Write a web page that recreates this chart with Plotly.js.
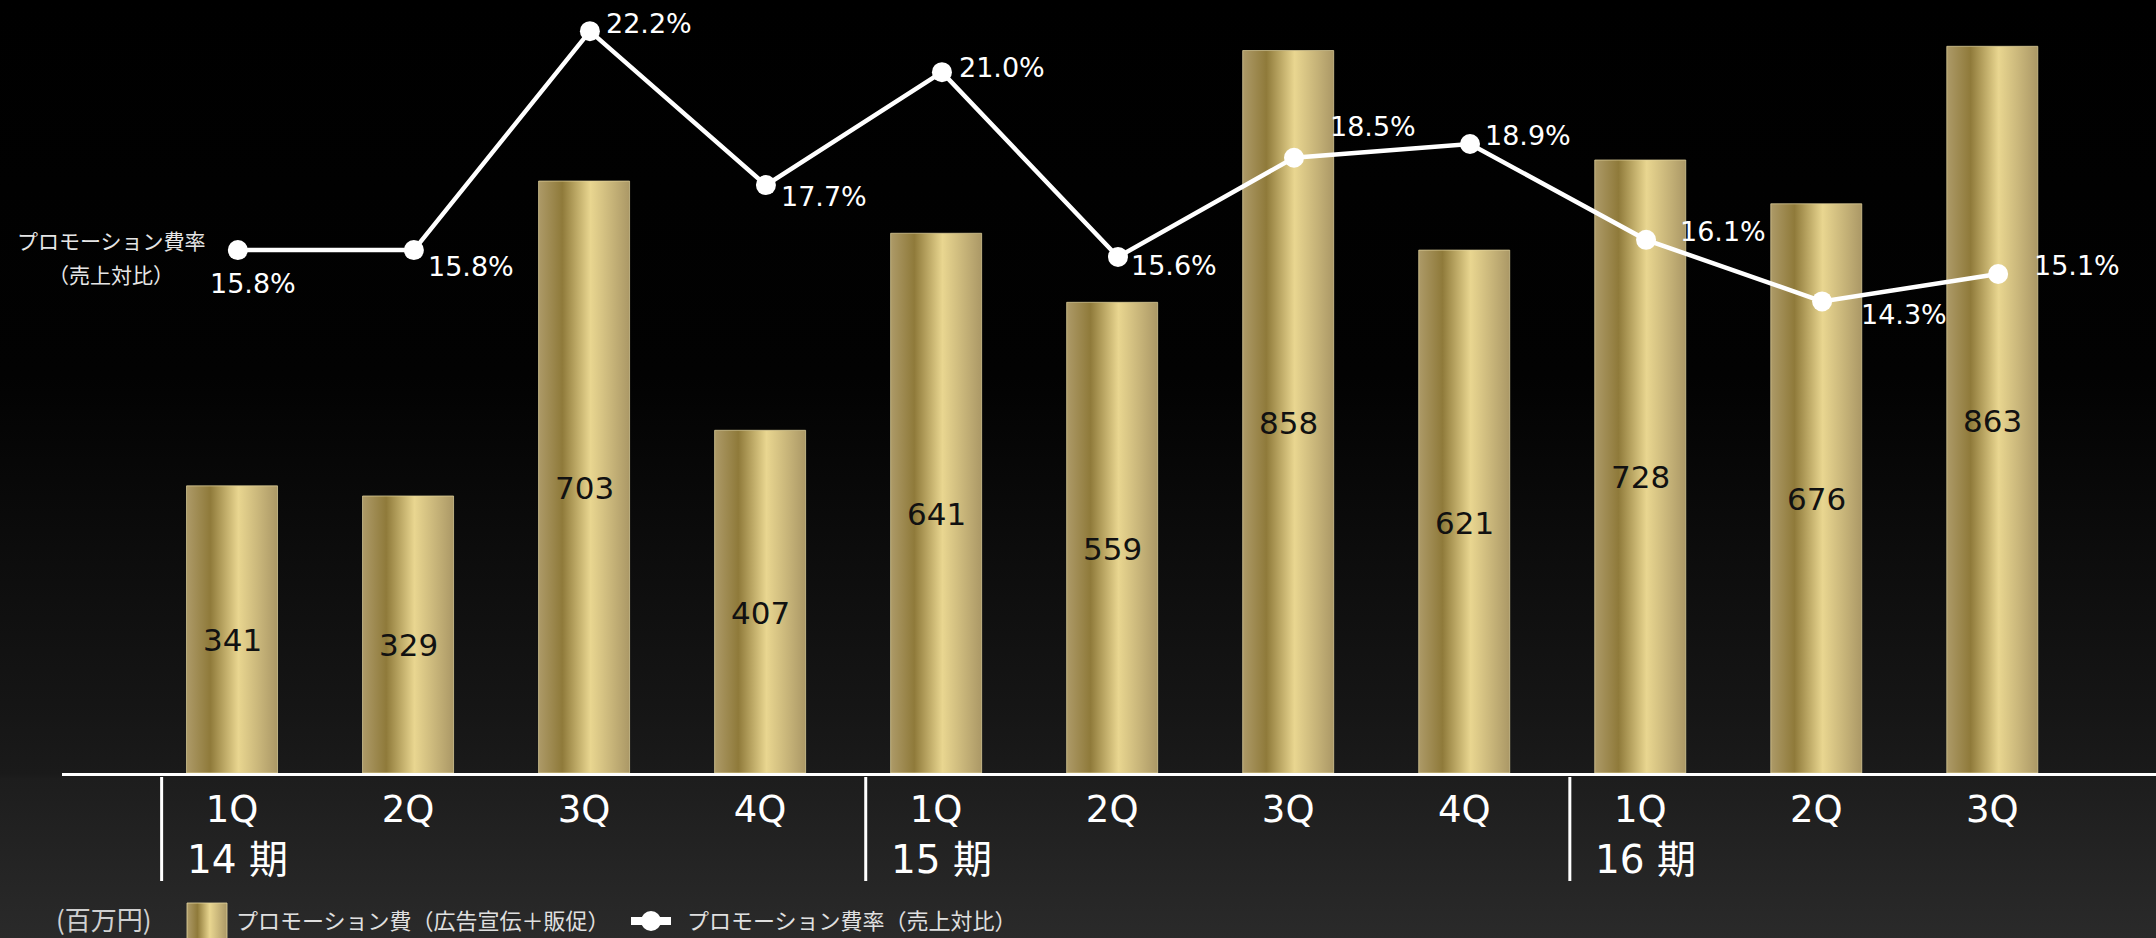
<!DOCTYPE html>
<html><head><meta charset="utf-8">
<script src="https://cdn.plot.ly/plotly-3.0.1.min.js"></script>
<style>
html,body{margin:0;padding:0;width:2156px;height:938px;overflow:hidden;
background:linear-gradient(to bottom,#000 0%,#020202 40%,#151515 75%,#1a1a1a 82.5%,#1d1d1d 83%,#2a2a2a 100%);}
#chart{width:2156px;height:938px;}
</style></head><body><div id="chart"></div>
<script>
// ---- data ----
const quarters = ['1Q','2Q','3Q','4Q','1Q','2Q','3Q','4Q','1Q','2Q','3Q'];
const periods = ['14 期','15 期','16 期'];
const periodStart = [0, 4, 8];
const promoCost = [341, 329, 703, 407, 641, 559, 858, 621, 728, 676, 863];
const promoRatio = [15.8, 15.8, 22.2, 17.7, 21.0, 15.6, 18.5, 18.9, 16.1, 14.3, 15.1];
const seriesNames = ['プロモーション費（広告宣伝＋販促）', 'プロモーション費率（売上対比）'];
const ratioSideLabel = ['プロモーション費率', '（売上対比）'];
const unitLabel = '(百万円)';

// ---- styles / layout constants ----
const W = 2156, H = 938, L = 62, B = 165;
const PW = W - L, PH = H - B;
const px2x = px => (px - L) / PW;
const px2y = py => (PH - py) / PH;
const JP_FONT = '"Noto Sans CJK JP", "Noto Sans", sans-serif';
const NUM_FONT = '"DejaVu Sans", "Noto Sans CJK JP", sans-serif';
const XRANGE = [-0.966, 10.93];
const LINE_SHIFT = 0.033; // line markers sit slightly right of bar centres
// percent label offsets in px (dx from point to label left edge, dy down)
const ratioLabelDx = [-30, 12, 14, 13, 15, 11, 34, 13, 32, 37, 34];
const ratioLabelDy = [33, 16, -8, 11, -5, 9, -31, -9, -8, 13, -9];

const idx = quarters.map((_, i) => i);

const barTrace = {
  type: 'bar', x: idx, y: promoCost, width: 0.517,
  marker: {color: '#c8b477', line: {color: 'rgba(230,215,160,0.7)', width: 1}},
  hoverinfo: 'skip', showlegend: false, name: seriesNames[0]
};
const lineTrace = {
  type: 'scatter', mode: 'lines+markers', x: idx, y: promoRatio, xaxis: 'x2', yaxis: 'y2',
  line: {color: '#ffffff', width: 4.5},
  marker: {color: '#ffffff', size: 20},
  cliponaxis: false, hoverinfo: 'skip', showlegend: false, name: seriesNames[1]
};

const annotations = [];
promoCost.forEach((v, i) => annotations.push({
  x: i, y: v / 2, xref: 'x', yref: 'y', text: String(v), showarrow: false,
  yshift: -11, font: {family: NUM_FONT, size: 31, color: '#111'}
}));
promoRatio.forEach((v, i) => annotations.push({
  x: i, y: v, xref: 'x2', yref: 'y2', text: v.toFixed(1) + '%', showarrow: false,
  xanchor: 'left', yanchor: 'middle', xshift: ratioLabelDx[i], yshift: -ratioLabelDy[i],
  font: {family: NUM_FONT, size: 27, color: '#fff'}
}));
periods.forEach((p, k) => annotations.push({
  x: periodStart[k] - 0.27, y: px2y(859), xref: 'x', yref: 'paper', text: p,
  showarrow: false, xanchor: 'left', yanchor: 'middle',
  font: {family: NUM_FONT, size: 39, color: '#fff'}
}));
ratioSideLabel.forEach((t, k) => annotations.push({
  x: px2x(111), y: px2y(k === 0 ? 240 : 274), xref: 'paper', yref: 'paper', text: t,
  showarrow: false, xanchor: 'center', yanchor: 'middle',
  font: {family: JP_FONT, size: 21, color: '#e6e6e6'}
}));
annotations.push({
  x: px2x(54), y: px2y(918), xref: 'paper', yref: 'paper', text: unitLabel,
  showarrow: false, xanchor: 'left', yanchor: 'middle',
  font: {family: JP_FONT, size: 26, color: '#d0d0d0'}
});
annotations.push({
  x: px2x(234), y: px2y(919), xref: 'paper', yref: 'paper', text: seriesNames[0],
  showarrow: false, xanchor: 'left', yanchor: 'middle',
  font: {family: JP_FONT, size: 22, color: '#e0e0e0'}
});
annotations.push({
  x: px2x(685), y: px2y(919), xref: 'paper', yref: 'paper', text: seriesNames[1],
  showarrow: false, xanchor: 'left', yanchor: 'middle',
  font: {family: JP_FONT, size: 22, color: '#e0e0e0'}
});

const shapes = [];
periodStart.forEach(s => shapes.push({
  type: 'line', xref: 'x', yref: 'paper', x0: s - 0.4, x1: s - 0.4,
  y0: px2y(777), y1: px2y(881), line: {color: '#fff', width: 3}
}));
const swatchIndex = shapes.length;
shapes.push({
  type: 'rect', xref: 'paper', yref: 'paper', x0: px2x(187), x1: px2x(227),
  y0: px2y(903), y1: px2y(945), fillcolor: '#c8b477',
  line: {color: 'rgba(230,215,160,0.8)', width: 1}
});
shapes.push({
  type: 'line', xref: 'paper', yref: 'paper', x0: px2x(631), x1: px2x(671),
  y0: px2y(921), y1: px2y(921), line: {color: '#fff', width: 8}
});
shapes.push({
  type: 'circle', xref: 'paper', yref: 'paper', x0: px2x(641), x1: px2x(661),
  y0: px2y(911), y1: px2y(931), fillcolor: '#fff', line: {color: '#fff', width: 0}
});

const layout = {
  width: W, height: H,
  margin: {l: L, r: 0, t: 0, b: B},
  paper_bgcolor: 'rgba(0,0,0,0)', plot_bgcolor: 'rgba(0,0,0,0)',
  showlegend: false,
  xaxis: {
    type: 'linear', range: XRANGE, tickvals: idx, ticktext: quarters,
    tickfont: {family: NUM_FONT, size: 37, color: '#fff'}, ticks: '',
    showline: true, linecolor: '#fff', linewidth: 3, showgrid: false, zeroline: false,
    ticklabelstandoff: 2, fixedrange: true
  },
  xaxis2: {
    type: 'linear', overlaying: 'x', range: [XRANGE[0] - LINE_SHIFT, XRANGE[1] - LINE_SHIFT],
    visible: false, showgrid: false, zeroline: false
  },
  yaxis: {range: [0, 918], visible: false, showgrid: false, zeroline: false},
  yaxis2: {range: [0.515, 23.11], overlaying: 'y', visible: false, showgrid: false, zeroline: false},
  annotations: annotations, shapes: shapes,
  font: {family: JP_FONT}
};

Plotly.newPlot('chart', [barTrace, lineTrace], layout, {staticPlot: true}).then(gd => {
  const ns = 'http://www.w3.org/2000/svg';
  const svg = gd.querySelector('.main-svg');
  let defs = svg.querySelector('defs');
  if (!defs) { defs = document.createElementNS(ns, 'defs'); svg.insertBefore(defs, svg.firstChild); }
  const lg = document.createElementNS(ns, 'linearGradient');
  lg.setAttribute('id', 'goldGrad');
  lg.setAttribute('x1', '0'); lg.setAttribute('y1', '0');
  lg.setAttribute('x2', '1'); lg.setAttribute('y2', '0');
  [['0', '#ad9a68'], ['0.26', '#8f7a3a'], ['0.57', '#e9d690'], ['1', '#ab9866']].forEach(([o, c]) => {
    const st = document.createElementNS(ns, 'stop');
    st.setAttribute('offset', o); st.setAttribute('stop-color', c);
    lg.appendChild(st);
  });
  defs.appendChild(lg);
  gd.querySelectorAll('.barlayer .point path').forEach(p => { p.style.fill = 'url(#goldGrad)'; });
  gd.querySelectorAll('.shapelayer path[data-index="' + swatchIndex + '"]').forEach(p => { p.style.fill = 'url(#goldGrad)'; p.style.fillOpacity = 1; });
});
</script></body></html>
